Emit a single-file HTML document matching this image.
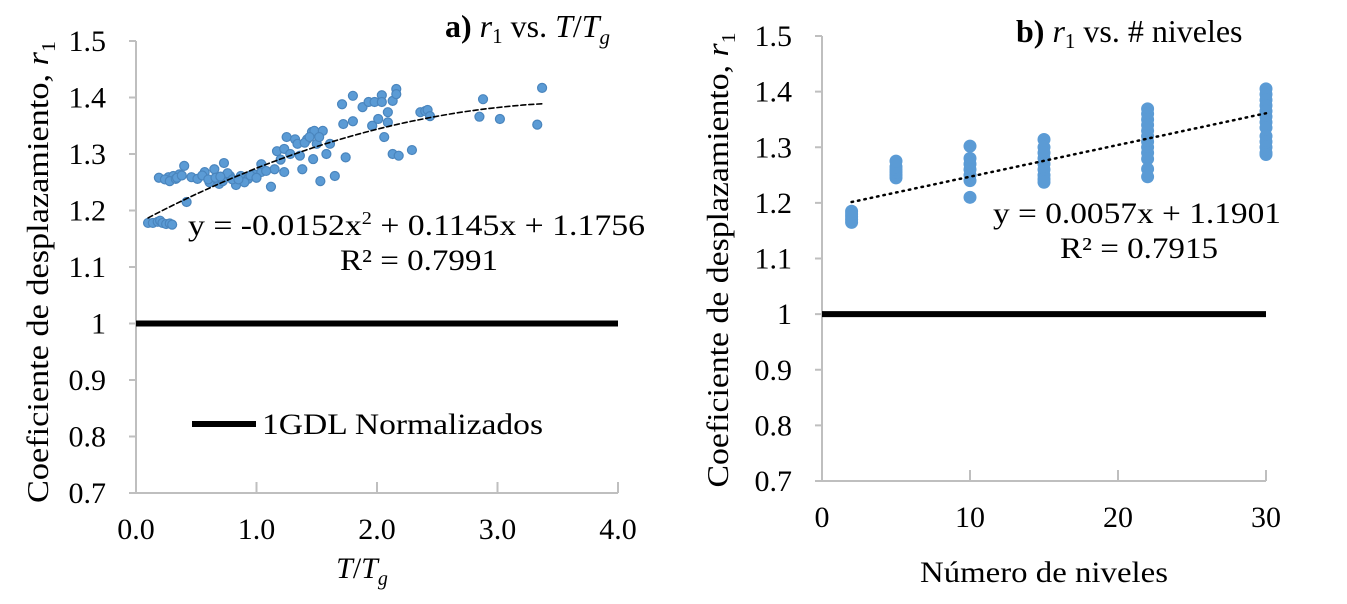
<!DOCTYPE html>
<html><head><meta charset="utf-8"><style>
body{margin:0;background:#fff}
svg, svg text{font-family:'Liberation Serif','Times New Roman',serif}
</style></head><body>
<svg id="c" width="1347" height="599" viewBox="0 0 1347 599" xmlns="http://www.w3.org/2000/svg">
<g>
<text x="445" y="37" font-size="32"><tspan font-weight="bold">a)</tspan> <tspan font-style="italic">r</tspan><tspan font-size="21" dy="6">1</tspan><tspan dy="-6"> vs. </tspan><tspan font-style="italic">T</tspan>/<tspan font-style="italic">T</tspan><tspan font-style="italic" font-size="21" dy="7">g</tspan></text>
<text x="1016" y="42" font-size="32"><tspan font-weight="bold">b)</tspan> <tspan font-style="italic">r</tspan><tspan font-size="21" dy="6">1</tspan><tspan dy="-6"> vs. # niveles</tspan></text>
<text x="188" y="235" font-size="30" textLength="457" lengthAdjust="spacingAndGlyphs">y = -0.0152x<tspan font-size="18" dy="-11">2</tspan><tspan dy="11"> + 0.1145x + 1.1756</tspan></text>
<text x="340" y="270" font-size="30" textLength="158" lengthAdjust="spacingAndGlyphs">R² = 0.7991</text>
<text x="993" y="223" font-size="30" textLength="288" lengthAdjust="spacingAndGlyphs">y = 0.0057x + 1.1901</text>
<text x="1060" y="258" font-size="30" textLength="158" lengthAdjust="spacingAndGlyphs">R² = 0.7915</text>
<line x1="192" y1="424" x2="256" y2="424" stroke="#000" stroke-width="6"/>
<text x="262" y="434" font-size="30" textLength="281" lengthAdjust="spacingAndGlyphs">1GDL Normalizados</text>
<text transform="translate(48,272) rotate(-90)" text-anchor="middle" font-size="31" textLength="462" lengthAdjust="spacingAndGlyphs">Coeficiente  de desplazamiento,  <tspan font-style="italic">r</tspan><tspan font-size="20" dy="7">1</tspan></text>
<text transform="translate(728,260) rotate(-90)" text-anchor="middle" font-size="31" textLength="455" lengthAdjust="spacingAndGlyphs">Coeficiente  de desplazamiento,  <tspan font-style="italic">r</tspan><tspan font-size="20" dy="7">1</tspan></text>
<text x="362" y="578" text-anchor="middle" font-size="30"><tspan font-style="italic">T</tspan>/<tspan font-style="italic">T</tspan><tspan font-style="italic" font-size="20" dy="7">g</tspan></text>
<text x="1044" y="582" text-anchor="middle" font-size="30" textLength="248" lengthAdjust="spacingAndGlyphs">Número de niveles</text>
</g>
</svg>
<script>
const aX=[0.10,0.14,0.18,0.20,0.22,0.25,0.28,0.30,0.19,0.27,0.31,0.36,0.40,0.46,0.51,0.57,0.61,0.65,0.69,0.73,0.78,0.83,0.87,0.93,0.98,1.04,1.04,1.12,0.42,1.15,1.17,1.23,1.25,1.32,1.23,1.36,1.38,1.42,1.46,1.48,1.47,1.53,1.55,1.61,1.65,1.71,1.74,1.72,1.80,1.80,1.88,1.93,1.98,2.01,2.04,2.04,1.96,2.06,2.09,2.09,2.13,2.16,2.16,2.13,2.18,2.29,2.36,2.40,2.88,2.85,3.02,3.33,3.37,2.42,2.44,0.24,0.28,0.33,0.34,0.38,0.55,0.60,0.66,0.72,0.76,0.80,0.90,0.95,1.00,1.08,1.20,1.28,1.34,1.40,1.44,1.50,1.52,1.58,0.70,0.85];
const aY=[1.178,1.178,1.180,1.182,1.178,1.176,1.177,1.175,1.258,1.259,1.261,1.264,1.279,1.259,1.256,1.268,1.250,1.273,1.247,1.284,1.261,1.245,1.261,1.256,1.264,1.268,1.282,1.242,1.215,1.273,1.305,1.268,1.330,1.326,1.309,1.297,1.273,1.326,1.339,1.341,1.291,1.252,1.341,1.318,1.261,1.388,1.294,1.353,1.403,1.358,1.383,1.392,1.392,1.362,1.404,1.392,1.350,1.330,1.374,1.356,1.394,1.415,1.406,1.300,1.297,1.307,1.374,1.376,1.397,1.366,1.362,1.352,1.417,1.378,1.367,1.255,1.252,1.256,1.258,1.262,1.262,1.255,1.258,1.252,1.266,1.255,1.250,1.262,1.258,1.270,1.290,1.300,1.318,1.320,1.330,1.318,1.330,1.300,1.260,1.255];
const bX=[2,2,2,2,2,5,5,5,5,5,5,10,10,10,10,10,10,10,15,15,15,15,15,15,15,15,15,22,22,22,22,22,22,22,22,22,22,22,22,30,30,30,30,30,30,30,30,30,30,30,30,30];
const bY=[1.165,1.170,1.175,1.180,1.185,1.245,1.250,1.255,1.260,1.265,1.275,1.302,1.280,1.270,1.260,1.250,1.240,1.210,1.314,1.300,1.290,1.280,1.270,1.260,1.250,1.243,1.237,1.369,1.360,1.350,1.340,1.330,1.320,1.310,1.300,1.290,1.279,1.261,1.247,1.405,1.395,1.385,1.375,1.365,1.355,1.345,1.335,1.320,1.310,1.300,1.290,1.287];
const yTicks=[0.7,0.8,0.9,1,1.1,1.2,1.3,1.4,1.5];
const yTickLabels=["0.7","0.8","0.9","1","1.1","1.2","1.3","1.4","1.5"];
const aXTicks=[0,1,2,3,4];
const aXTickLabels=["0.0","1.0","2.0","3.0","4.0"];
const bXTicks=[0,10,20,30];
const bXTickLabels=["0","10","20","30"];
const aFit=[-0.0152,0.1145,1.1756];
const bFit=[0.0057,1.1901];

const svg=document.getElementById('c');
const NS='http://www.w3.org/2000/svg';
function mk(tag,attrs,parent){const e=document.createElementNS(NS,tag);for(const k in attrs)e.setAttribute(k,attrs[k]);(parent||svg).appendChild(e);return e;}

function panel(P){
  const sx=v=>P.x0+(v-P.xmin)/(P.xmax-P.xmin)*(P.x1-P.x0);
  const sy=v=>P.y0-(v-0.7)/0.8*(P.y0-P.y1);
  const g=mk('g',{});
  
  
  const ax=mk('line',{x1:P.x0,y1:P.y0,x2:P.x0,y2:P.y1,stroke:'#bfbfbf','stroke-width':2},g);
  
  
  const bx=mk('line',{x1:P.x0,y1:P.y0,x2:P.x1,y2:P.y0,stroke:'#bfbfbf','stroke-width':2},g);
  
  
  yTicks.forEach((t,i)=>{
    mk('line',{x1:P.x0-7,x2:P.x0,y1:sy(t),y2:sy(t),stroke:'#bfbfbf','stroke-width':2},g);
    const tx=mk('text',{x:P.x0-30,y:sy(t)+10,'text-anchor':'end','font-size':30},g);
    tx.textContent=yTickLabels[i];
    
    
  });
  P.xt.forEach((t,i)=>{
    mk('line',{x1:sx(t),x2:sx(t),y1:P.y0-11,y2:P.y0,stroke:'#bfbfbf','stroke-width':2},g);
    const tx=mk('text',{x:sx(t),y:P.y0+46,'text-anchor':'middle','font-size':30},g);
    tx.textContent=P.xl[i];
    
    
  });
  const ref=mk('line',{x1:P.x0,x2:P.x1,y1:sy(1),y2:sy(1),stroke:'#000','stroke-width':6},g);
  
  
  P.X.forEach((x,i)=>{
    const c=mk('circle',{cx:sx(x),cy:sy(P.Y[i]),r:P.r,fill:'#5b9bd5',stroke:P.stroke||'none','stroke-width':1.2},g);
    
    
  });
  let d='';
  for(let k=0;k<=60;k++){const x=P.fx0+(P.fx1-P.fx0)*k/60;d+=(k?'L':'M')+sx(x).toFixed(1)+','+sy(P.f(x)).toFixed(1);}
  const tl=mk('path',{d:d,fill:'none',stroke:'#000','stroke-width':P.dotted?2.5:1.6,'stroke-dasharray':P.dotted?'1.5 5':'5 3','stroke-linecap':'round'},g);
  
  
}
panel({name:'panel-a',x0:136,x1:618,y0:493,y1:41,xmin:0,xmax:4,xt:aXTicks,xl:aXTickLabels,X:aX,Y:aY,r:4.5,stroke:'#4a85bd',
  f:x=>aFit[0]*x*x+aFit[1]*x+aFit[2],fx0:0.1,fx1:3.37});
panel({name:'panel-b',x0:822,x1:1266,y0:481,y1:36,xmin:0,xmax:30,xt:bXTicks,xl:bXTickLabels,X:bX,Y:bY,r:6.5,dotted:true,
  f:x=>bFit[0]*x+bFit[1],fx0:2,fx1:30});
</script>
</body></html>
